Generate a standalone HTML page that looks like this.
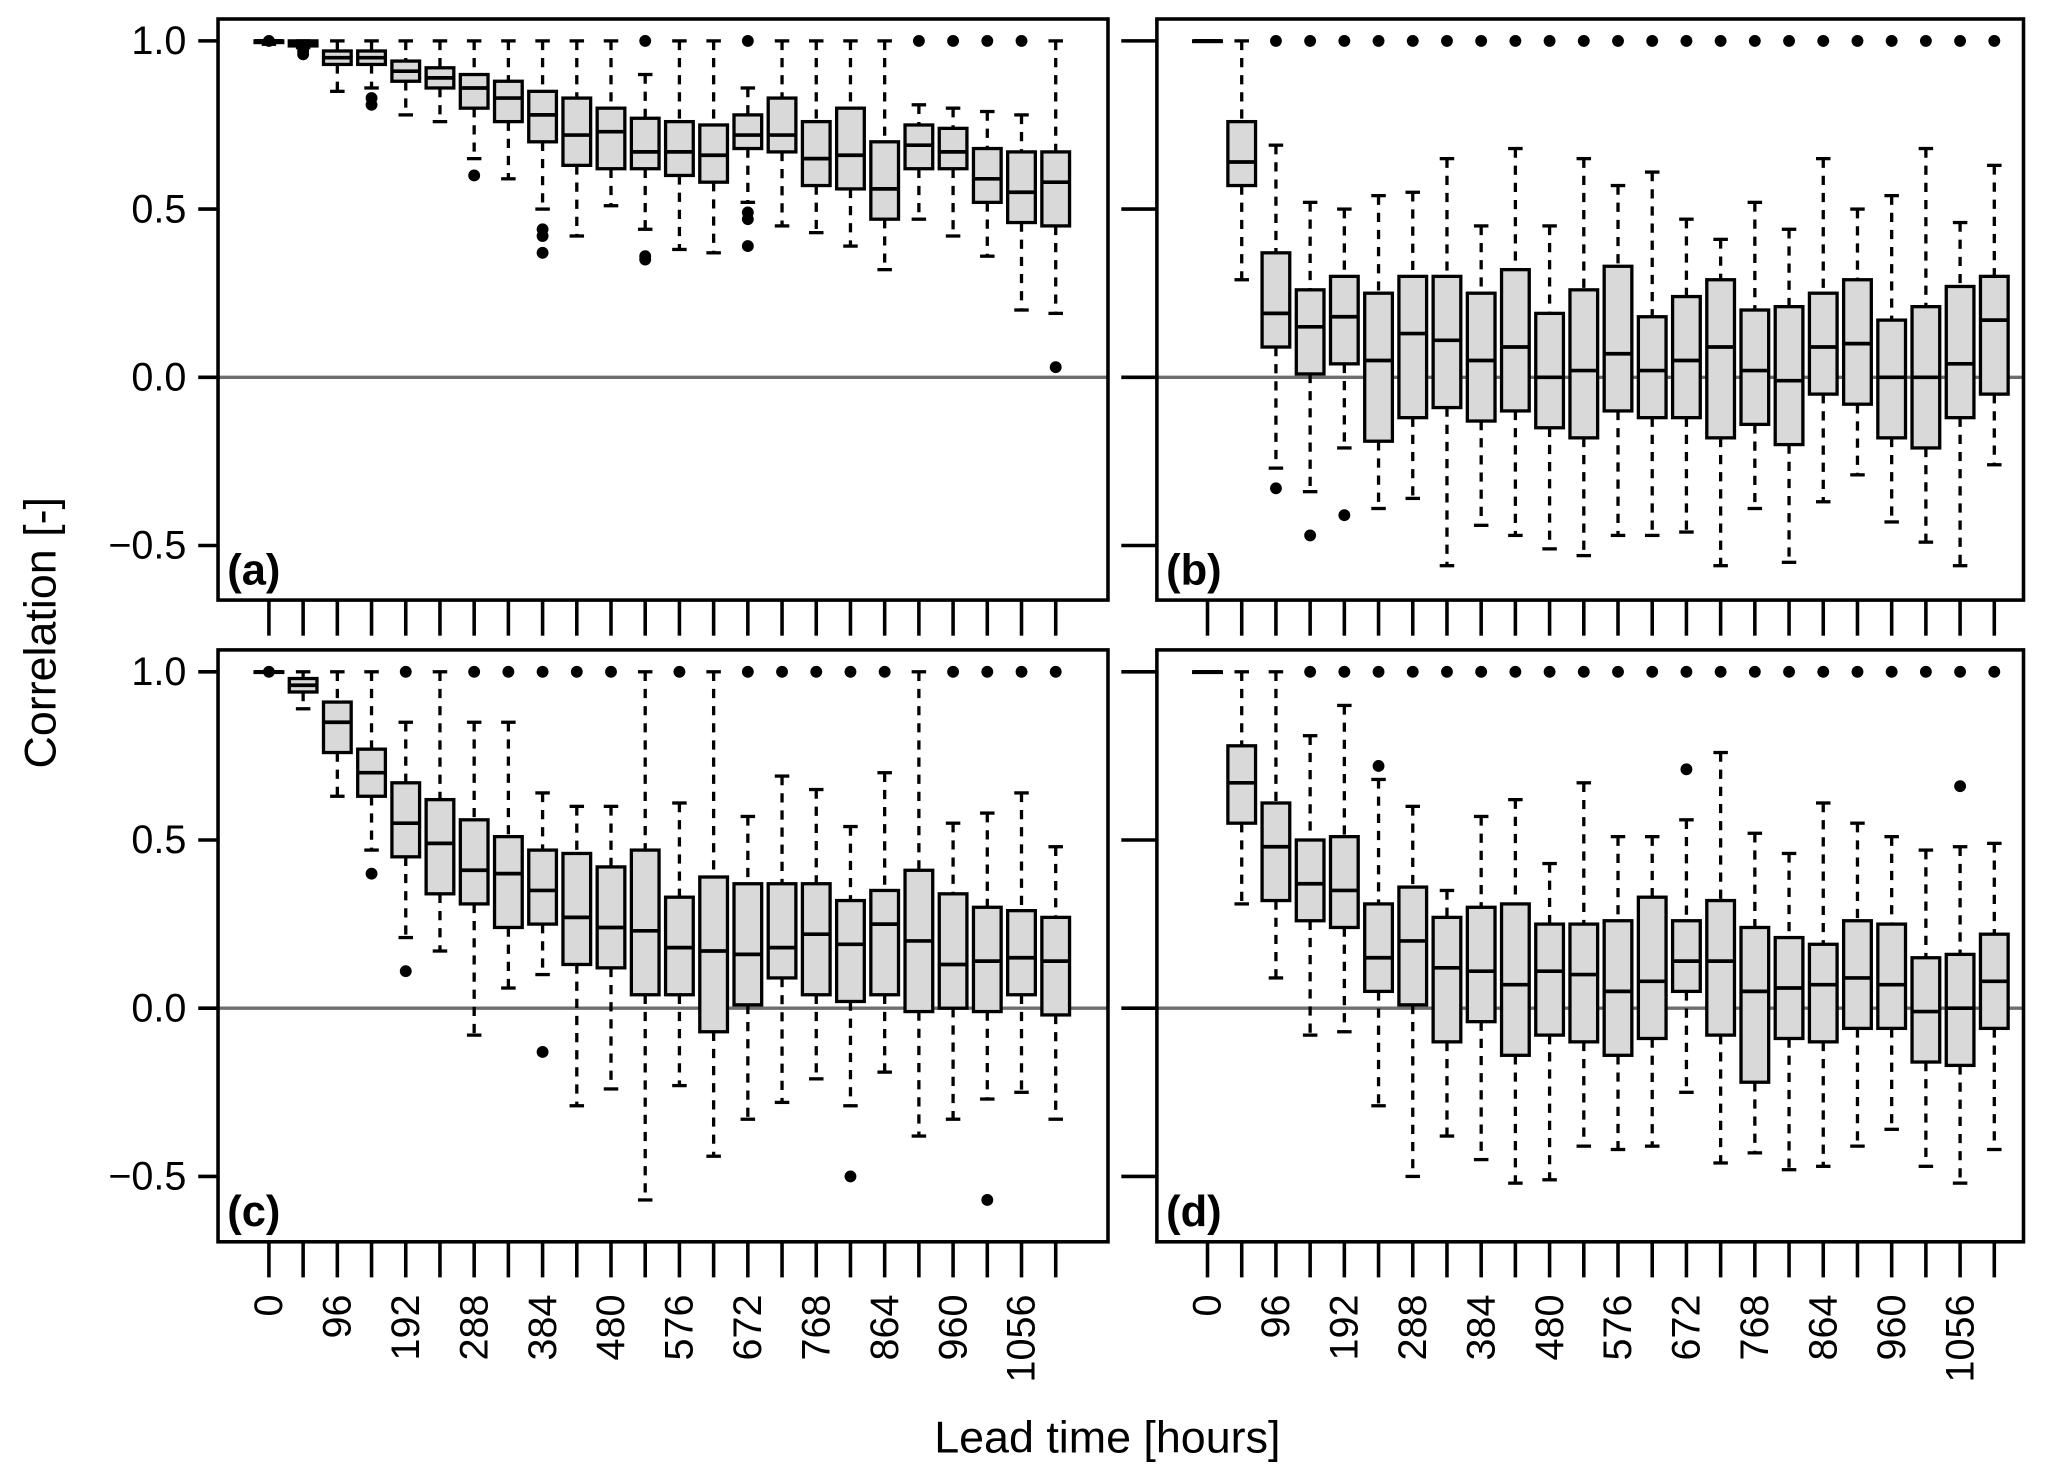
<!DOCTYPE html>
<html><head><meta charset="utf-8"><style>
html,body{margin:0;padding:0;background:#fff}
svg{display:block;font-family:"Liberation Sans",sans-serif}
</style></head><body>
<svg id="chart" width="2067" height="1482" viewBox="0 0 1568 1124.2" xmlns="http://www.w3.org/2000/svg"></svg>
<script>
// lead times (hours)
const leadTimes = [0,48,96,144,192,240,288,336,384,432,480,528,576,624,672,720,768,816,864,912,960,1008,1056,1104];
const xTickLabels = ["0","96","192","288","384","480","576","672","768","864","960","1056"];
const yTicks = [-0.5,0,0.5,1.0];
const yTickLabels = ["\u22120.5","0.0","0.5","1.0"];
// each box: [lowWhisker, q1, median, q3, highWhisker]
const statsA = [[0.99,0.995,1,1,1],[0.98,0.985,0.99,1,1],[0.85,0.93,0.95,0.97,1],[0.86,0.93,0.95,0.97,1],[0.78,0.88,0.91,0.94,1],[0.76,0.86,0.89,0.92,1],[0.65,0.80,0.86,0.90,1],[0.59,0.76,0.83,0.88,1],[0.50,0.70,0.78,0.85,1],[0.42,0.63,0.72,0.83,1],[0.51,0.62,0.73,0.80,1],[0.44,0.62,0.67,0.77,0.90],[0.38,0.60,0.67,0.76,1],[0.37,0.58,0.66,0.75,1],[0.52,0.68,0.72,0.78,0.86],[0.45,0.67,0.72,0.83,1],[0.43,0.57,0.65,0.76,1],[0.39,0.56,0.66,0.80,1],[0.32,0.47,0.56,0.70,1],[0.47,0.62,0.69,0.75,0.81],[0.42,0.62,0.67,0.74,0.80],[0.36,0.52,0.59,0.68,0.79],[0.20,0.46,0.55,0.67,0.78],[0.19,0.45,0.58,0.67,1]];
const outA = [[1],[0.97,0.96],[],[0.83,0.81],[],[],[0.60],[],[0.44,0.42,0.37],[],[],[1,0.36,0.35],[],[],[1,0.49,0.47,0.39],[],[],[],[],[1],[1],[1],[1],[0.03]];
const statsB = [[1,1,1,1,1],[0.29,0.57,0.64,0.76,1],[-0.27,0.09,0.19,0.37,0.69],[-0.34,0.01,0.15,0.26,0.52],[-0.21,0.04,0.18,0.30,0.50],[-0.39,-0.19,0.05,0.25,0.54],[-0.36,-0.12,0.13,0.30,0.55],[-0.56,-0.09,0.11,0.30,0.65],[-0.44,-0.13,0.05,0.25,0.45],[-0.47,-0.10,0.09,0.32,0.68],[-0.51,-0.15,0.00,0.19,0.45],[-0.53,-0.18,0.02,0.26,0.65],[-0.47,-0.10,0.07,0.33,0.57],[-0.47,-0.12,0.02,0.18,0.61],[-0.46,-0.12,0.05,0.24,0.47],[-0.56,-0.18,0.09,0.29,0.41],[-0.39,-0.14,0.02,0.20,0.52],[-0.55,-0.20,-0.01,0.21,0.44],[-0.37,-0.05,0.09,0.25,0.65],[-0.29,-0.08,0.10,0.29,0.50],[-0.43,-0.18,0.00,0.17,0.54],[-0.49,-0.21,0.00,0.21,0.68],[-0.56,-0.12,0.04,0.27,0.46],[-0.26,-0.05,0.17,0.30,0.63]];
const outB = [[],[],[1,-0.33],[1,-0.47],[1,-0.41],[1],[1],[1],[1],[1],[1],[1],[1],[1],[1],[1],[1],[1],[1],[1],[1],[1],[1],[1]];
const statsC = [[1,1,1,1,1],[0.89,0.94,0.96,0.98,1],[0.63,0.76,0.85,0.91,1],[0.47,0.63,0.70,0.77,1],[0.21,0.45,0.55,0.67,0.85],[0.17,0.34,0.49,0.62,1],[-0.08,0.31,0.41,0.56,0.85],[0.06,0.24,0.40,0.51,0.85],[0.10,0.25,0.35,0.47,0.64],[-0.29,0.13,0.27,0.46,0.60],[-0.24,0.12,0.24,0.42,0.60],[-0.57,0.04,0.23,0.47,1],[-0.23,0.04,0.18,0.33,0.61],[-0.44,-0.07,0.17,0.39,1],[-0.33,0.01,0.16,0.37,0.57],[-0.28,0.09,0.18,0.37,0.69],[-0.21,0.04,0.22,0.37,0.65],[-0.29,0.02,0.19,0.32,0.54],[-0.19,0.04,0.25,0.35,0.70],[-0.38,-0.01,0.20,0.41,1],[-0.33,0.00,0.13,0.34,0.55],[-0.27,-0.01,0.14,0.30,0.58],[-0.25,0.04,0.15,0.29,0.64],[-0.33,-0.02,0.14,0.27,0.48]];
const outC = [[1],[],[],[0.40],[1,0.11],[],[1],[1],[1,-0.13],[1],[1],[],[1],[],[1],[1],[1],[1,-0.50],[1],[],[1],[1,-0.57],[1],[1]];
const statsD = [[1,1,1,1,1],[0.31,0.55,0.67,0.78,1],[0.09,0.32,0.48,0.61,1],[-0.08,0.26,0.37,0.50,0.81],[-0.07,0.24,0.35,0.51,0.90],[-0.29,0.05,0.15,0.31,0.68],[-0.50,0.01,0.20,0.36,0.60],[-0.38,-0.10,0.12,0.27,0.35],[-0.45,-0.04,0.11,0.30,0.57],[-0.52,-0.14,0.07,0.31,0.62],[-0.51,-0.08,0.11,0.25,0.43],[-0.41,-0.10,0.10,0.25,0.67],[-0.42,-0.14,0.05,0.26,0.51],[-0.41,-0.09,0.08,0.33,0.51],[-0.25,0.05,0.14,0.26,0.56],[-0.46,-0.08,0.14,0.32,0.76],[-0.43,-0.22,0.05,0.24,0.52],[-0.48,-0.09,0.06,0.21,0.46],[-0.47,-0.10,0.07,0.19,0.61],[-0.41,-0.06,0.09,0.26,0.55],[-0.36,-0.06,0.07,0.25,0.51],[-0.47,-0.16,-0.01,0.15,0.47],[-0.52,-0.17,0.00,0.16,0.48],[-0.42,-0.06,0.08,0.22,0.49]];
const outD = [[],[],[],[1],[1],[1,0.72],[1],[1],[1],[1],[1],[1],[1],[1],[1,0.71],[1],[1],[1],[1],[1],[1],[1],[1,0.66],[1]];

const svg = document.getElementById('chart');
const NS = 'http://www.w3.org/2000/svg';
function mk(tag, attrs, parent){const e=document.createElementNS(NS,tag);for(const k in attrs)e.setAttribute(k,attrs[k]);(parent||svg).appendChild(e);return e;}

const panels = [
 {id:'a',left:165.4,right:840.5,top:14.4,bottom:455.2,first:204,stats:statsA,out:outA,yaxis:true,xlab:false},
 {id:'b',left:877.6,right:1535,top:14.4,bottom:455.2,first:916,stats:statsB,out:outB,yaxis:false,xlab:false},
 {id:'c',left:165.4,right:840.5,top:493,bottom:942,first:204,stats:statsC,out:outC,yaxis:true,xlab:true},
 {id:'d',left:877.6,right:1535,top:493,bottom:942,first:916,stats:statsD,out:outD,yaxis:false,xlab:true}
];
const step = 25.95, yUnit = 255.2, bw = 10.5;

panels.forEach(p=>{
  const y0 = p.top + 16.6 + yUnit; // y of value 0
  const ys = v => y0 - v*yUnit;
  const xs = i => p.first + i*step;
  const g = mk('g',{});
  
  
  const zl = mk('line',{x1:p.left,x2:p.right,y1:ys(0),y2:ys(0),stroke:'#6e6e6e','stroke-width':2.6},g);
  
  
  p.stats.forEach((s,i)=>{
    const x = xs(i);
    const bg = mk('g',{stroke:'#000','stroke-width':2.5,fill:'#d9d9d9'},g);
    
    
    mk('line',{x1:x,x2:x,y1:ys(s[4]),y2:ys(s[3]),'stroke-dasharray':'7,6'},bg);
    mk('line',{x1:x,x2:x,y1:ys(s[1]),y2:ys(s[0]),'stroke-dasharray':'7,6'},bg);
    mk('line',{x1:x-5.5,x2:x+5.5,y1:ys(s[4]),y2:ys(s[4])},bg);
    mk('line',{x1:x-5.5,x2:x+5.5,y1:ys(s[0]),y2:ys(s[0])},bg);
    mk('rect',{x:x-bw,y:ys(s[3]),width:2*bw,height:Math.max(0.5,ys(s[1])-ys(s[3]))},bg);
    mk('line',{x1:x-bw,x2:x+bw,y1:ys(s[2]),y2:ys(s[2]),'stroke-width':2.8},bg);
    p.out[i].forEach(v=>{
      const c = mk('circle',{cx:x,cy:ys(v),r:4.5,fill:'#000',stroke:'none'},g);
      
      
    });
  });
  const fr = mk('rect',{x:p.left,y:p.top,width:p.right-p.left,height:p.bottom-p.top,fill:'none',stroke:'#000','stroke-width':2.7},g);
  
  
  yTicks.forEach((v,k)=>{
    const t = mk('line',{x1:p.left-(p.yaxis?15:27),x2:p.left,y1:ys(v),y2:ys(v),stroke:'#000','stroke-width':2.7},g);
    
    
    if(p.yaxis){
      const tx = mk('text',{x:p.left-24,y:ys(v)+10,'text-anchor':'end','font-size':30,fill:'#000'},g);
      tx.textContent = yTickLabels[k];
      
      
    }
  });
  leadTimes.forEach((lt,i)=>{
    const t = mk('line',{x1:xs(i),x2:xs(i),y1:p.bottom,y2:p.bottom+27,stroke:'#000','stroke-width':2.7},g);
    
    
  });
  if(p.xlab){
    xTickLabels.forEach((lab,k)=>{
      const x = xs(k*2);
      const tx = mk('text',{x:0,y:0,transform:`translate(${x+10},${p.bottom+40}) rotate(-90)`,'text-anchor':'end','font-size':30,fill:'#000'},g);
      tx.textContent = lab;
      
      
    });
  }
  const pl = mk('text',{x:p.left+7,y:p.bottom-12,'font-size':33,'font-weight':'bold',fill:'#000'},g);
  pl.textContent = '('+p.id+')';
  
  
});
const yt = mk('text',{x:0,y:0,transform:'translate(42,480) rotate(-90)','text-anchor':'middle','font-size':34,fill:'#000'});
yt.textContent = 'Correlation [-]';


const xt = mk('text',{x:840,y:1102,'text-anchor':'middle','font-size':34,fill:'#000'});
xt.textContent = 'Lead time [hours]';


</script>
</body></html>
